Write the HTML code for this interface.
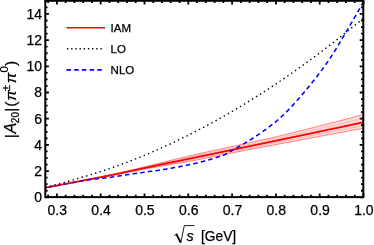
<!DOCTYPE html>
<html><head><meta charset="utf-8"><style>
html,body{margin:0;padding:0;background:#fff;}
svg{display:block;will-change:transform;opacity:0.999;}
text{font-family:"Liberation Sans",sans-serif;fill:#000;stroke:#000;stroke-width:0.25px;}
.tk{font-size:14px;}
.lg{font-size:11.5px;}
.ax{font-size:14.5px;}
</style></head><body>
<svg width="374" height="245" viewBox="0 0 374 245">
<defs><linearGradient id="bg" gradientUnits="userSpaceOnUse" x1="60" y1="0" x2="108" y2="0"><stop offset="0" stop-color="#0000ff" stop-opacity="0.5"/><stop offset="1" stop-color="#0000ff" stop-opacity="1"/></linearGradient></defs>
<rect width="374" height="245" fill="#fff"/>
<path d="M45.30,187.77 L46.90,187.46 L48.50,187.15 L50.10,186.83 L51.70,186.51 L53.29,186.20 L54.89,185.88 L56.49,185.57 L58.09,185.25 L59.69,184.94 L61.29,184.62 L62.89,184.31 L64.49,184.00 L66.09,183.68 L67.69,183.37 L69.28,183.05 L70.88,182.74 L72.48,182.43 L74.08,182.12 L75.68,181.81 L77.28,181.49 L78.88,181.18 L80.48,180.87 L82.08,180.56 L83.68,180.25 L85.27,179.94 L86.87,179.62 L88.47,179.31 L90.07,179.00 L91.67,178.68 L93.27,178.36 L94.87,178.05 L96.47,177.73 L98.07,177.40 L99.67,177.08 L101.26,176.76 L102.86,176.43 L104.46,176.10 L106.06,175.77 L107.66,175.43 L109.26,175.10 L110.86,174.76 L112.46,174.41 L114.06,174.06 L115.66,173.71 L117.25,173.35 L118.85,172.98 L120.45,172.62 L122.05,172.25 L123.65,171.87 L125.25,171.50 L126.85,171.12 L128.45,170.74 L130.05,170.35 L131.65,169.97 L133.24,169.58 L134.84,169.19 L136.44,168.80 L138.04,168.42 L139.64,168.03 L141.24,167.64 L142.84,167.25 L144.44,166.86 L146.04,166.47 L147.64,166.08 L149.23,165.69 L150.83,165.30 L152.43,164.90 L154.03,164.50 L155.63,164.10 L157.23,163.71 L158.83,163.31 L160.43,162.91 L162.03,162.52 L163.63,162.12 L165.22,161.73 L166.82,161.34 L168.42,160.95 L170.02,160.56 L171.62,160.18 L173.22,159.79 L174.82,159.40 L176.42,159.02 L178.02,158.63 L179.62,158.24 L181.21,157.85 L182.81,157.47 L184.41,157.08 L186.01,156.69 L187.61,156.31 L189.21,155.93 L190.81,155.55 L192.41,155.18 L194.01,154.80 L195.61,154.43 L197.20,154.07 L198.80,153.71 L200.40,153.35 L202.00,152.99 L203.60,152.64 L205.20,152.29 L206.80,151.95 L208.40,151.60 L210.00,151.25 L211.60,150.91 L213.19,150.56 L214.79,150.22 L216.39,149.88 L217.99,149.54 L219.59,149.19 L221.19,148.85 L222.79,148.51 L224.39,148.17 L225.99,147.82 L227.59,147.48 L229.18,147.14 L230.78,146.79 L232.38,146.45 L233.98,146.10 L235.58,145.75 L237.18,145.40 L238.78,145.05 L240.38,144.70 L241.98,144.35 L243.58,144.00 L245.17,143.65 L246.77,143.30 L248.37,142.95 L249.97,142.60 L251.57,142.24 L253.17,141.89 L254.77,141.54 L256.37,141.18 L257.97,140.83 L259.57,140.47 L261.16,140.12 L262.76,139.76 L264.36,139.40 L265.96,139.04 L267.56,138.68 L269.16,138.32 L270.76,137.96 L272.36,137.59 L273.96,137.23 L275.56,136.86 L277.15,136.50 L278.75,136.13 L280.35,135.76 L281.95,135.38 L283.55,135.00 L285.15,134.61 L286.75,134.21 L288.35,133.82 L289.95,133.42 L291.55,133.02 L293.14,132.63 L294.74,132.23 L296.34,131.83 L297.94,131.43 L299.54,131.03 L301.14,130.63 L302.74,130.23 L304.34,129.83 L305.94,129.43 L307.54,129.02 L309.13,128.62 L310.73,128.21 L312.33,127.81 L313.93,127.40 L315.53,126.99 L317.13,126.58 L318.73,126.17 L320.33,125.76 L321.93,125.36 L323.53,124.94 L325.12,124.53 L326.72,124.12 L328.32,123.71 L329.92,123.30 L331.52,122.89 L333.12,122.47 L334.72,122.06 L336.32,121.65 L337.92,121.24 L339.52,120.82 L341.11,120.41 L342.71,119.99 L344.31,119.58 L345.91,119.16 L347.51,118.74 L349.11,118.32 L350.71,117.90 L352.31,117.48 L353.91,117.06 L355.51,116.64 L357.10,116.22 L358.70,115.80 L360.30,115.38 L361.90,114.95 L363.50,114.53 L363.50,128.28 L361.90,128.57 L360.30,128.87 L358.70,129.16 L357.10,129.46 L355.51,129.75 L353.91,130.05 L352.31,130.34 L350.71,130.64 L349.11,130.93 L347.51,131.23 L345.91,131.53 L344.31,131.82 L342.71,132.12 L341.11,132.42 L339.52,132.71 L337.92,133.01 L336.32,133.31 L334.72,133.61 L333.12,133.91 L331.52,134.21 L329.92,134.51 L328.32,134.81 L326.72,135.11 L325.12,135.41 L323.53,135.71 L321.93,136.01 L320.33,136.32 L318.73,136.62 L317.13,136.92 L315.53,137.22 L313.93,137.52 L312.33,137.82 L310.73,138.12 L309.13,138.42 L307.54,138.72 L305.94,139.02 L304.34,139.32 L302.74,139.62 L301.14,139.92 L299.54,140.22 L297.94,140.52 L296.34,140.82 L294.74,141.11 L293.14,141.41 L291.55,141.70 L289.95,142.00 L288.35,142.29 L286.75,142.58 L285.15,142.87 L283.55,143.16 L281.95,143.45 L280.35,143.75 L278.75,144.05 L277.15,144.35 L275.56,144.64 L273.96,144.94 L272.36,145.24 L270.76,145.54 L269.16,145.84 L267.56,146.14 L265.96,146.44 L264.36,146.74 L262.76,147.05 L261.16,147.35 L259.57,147.65 L257.97,147.95 L256.37,148.26 L254.77,148.56 L253.17,148.87 L251.57,149.17 L249.97,149.48 L248.37,149.79 L246.77,150.10 L245.17,150.40 L243.58,150.71 L241.98,151.02 L240.38,151.34 L238.78,151.65 L237.18,151.96 L235.58,152.28 L233.98,152.59 L232.38,152.91 L230.78,153.23 L229.18,153.55 L227.59,153.87 L225.99,154.19 L224.39,154.51 L222.79,154.83 L221.19,155.15 L219.59,155.48 L217.99,155.80 L216.39,156.12 L214.79,156.44 L213.19,156.76 L211.60,157.08 L210.00,157.40 L208.40,157.71 L206.80,158.03 L205.20,158.34 L203.60,158.66 L202.00,158.97 L200.40,159.28 L198.80,159.58 L197.20,159.88 L195.61,160.18 L194.01,160.47 L192.41,160.76 L190.81,161.04 L189.21,161.32 L187.61,161.60 L186.01,161.88 L184.41,162.16 L182.81,162.43 L181.21,162.71 L179.62,162.98 L178.02,163.25 L176.42,163.53 L174.82,163.80 L173.22,164.08 L171.62,164.35 L170.02,164.63 L168.42,164.91 L166.82,165.18 L165.22,165.46 L163.63,165.73 L162.03,166.00 L160.43,166.27 L158.83,166.54 L157.23,166.81 L155.63,167.08 L154.03,167.36 L152.43,167.64 L150.83,167.92 L149.23,168.20 L147.64,168.49 L146.04,168.79 L144.44,169.09 L142.84,169.39 L141.24,169.69 L139.64,170.00 L138.04,170.30 L136.44,170.61 L134.84,170.92 L133.24,171.23 L131.65,171.54 L130.05,171.85 L128.45,172.16 L126.85,172.47 L125.25,172.78 L123.65,173.09 L122.05,173.41 L120.45,173.72 L118.85,174.03 L117.25,174.34 L115.66,174.65 L114.06,174.95 L112.46,175.26 L110.86,175.57 L109.26,175.88 L107.66,176.18 L106.06,176.49 L104.46,176.79 L102.86,177.09 L101.26,177.38 L99.67,177.68 L98.07,177.97 L96.47,178.26 L94.87,178.55 L93.27,178.84 L91.67,179.13 L90.07,179.42 L88.47,179.71 L86.87,180.00 L85.27,180.28 L83.68,180.57 L82.08,180.86 L80.48,181.15 L78.88,181.44 L77.28,181.73 L75.68,182.02 L74.08,182.31 L72.48,182.60 L70.88,182.90 L69.28,183.19 L67.69,183.49 L66.09,183.78 L64.49,184.08 L62.89,184.38 L61.29,184.69 L59.69,184.99 L58.09,185.29 L56.49,185.60 L54.89,185.91 L53.29,186.22 L51.70,186.53 L50.10,186.84 L48.50,187.15 L46.90,187.46 L45.30,187.77Z" fill="#ff0000" fill-opacity="0.13" stroke="none"/>
<path d="M45.30,187.77 L46.90,187.46 L48.50,187.15 L50.10,186.83 L51.70,186.51 L53.29,186.20 L54.89,185.88 L56.49,185.57 L58.09,185.25 L59.69,184.94 L61.29,184.62 L62.89,184.31 L64.49,184.00 L66.09,183.68 L67.69,183.37 L69.28,183.05 L70.88,182.74 L72.48,182.43 L74.08,182.12 L75.68,181.81 L77.28,181.49 L78.88,181.18 L80.48,180.87 L82.08,180.56 L83.68,180.25 L85.27,179.94 L86.87,179.62 L88.47,179.31 L90.07,179.00 L91.67,178.68 L93.27,178.36 L94.87,178.05 L96.47,177.73 L98.07,177.40 L99.67,177.08 L101.26,176.76 L102.86,176.43 L104.46,176.10 L106.06,175.77 L107.66,175.43 L109.26,175.10 L110.86,174.76 L112.46,174.41 L114.06,174.06 L115.66,173.71 L117.25,173.35 L118.85,172.98 L120.45,172.62 L122.05,172.25 L123.65,171.87 L125.25,171.50 L126.85,171.12 L128.45,170.74 L130.05,170.35 L131.65,169.97 L133.24,169.58 L134.84,169.19 L136.44,168.80 L138.04,168.42 L139.64,168.03 L141.24,167.64 L142.84,167.25 L144.44,166.86 L146.04,166.47 L147.64,166.08 L149.23,165.69 L150.83,165.30 L152.43,164.90 L154.03,164.50 L155.63,164.10 L157.23,163.71 L158.83,163.31 L160.43,162.91 L162.03,162.52 L163.63,162.12 L165.22,161.73 L166.82,161.34 L168.42,160.95 L170.02,160.56 L171.62,160.18 L173.22,159.79 L174.82,159.40 L176.42,159.02 L178.02,158.63 L179.62,158.24 L181.21,157.85 L182.81,157.47 L184.41,157.08 L186.01,156.69 L187.61,156.31 L189.21,155.93 L190.81,155.55 L192.41,155.18 L194.01,154.80 L195.61,154.43 L197.20,154.07 L198.80,153.71 L200.40,153.35 L202.00,152.99 L203.60,152.64 L205.20,152.29 L206.80,151.95 L208.40,151.60 L210.00,151.25 L211.60,150.91 L213.19,150.56 L214.79,150.22 L216.39,149.88 L217.99,149.54 L219.59,149.19 L221.19,148.85 L222.79,148.51 L224.39,148.17 L225.99,147.82 L227.59,147.48 L229.18,147.14 L230.78,146.79 L232.38,146.45 L233.98,146.10 L235.58,145.75 L237.18,145.40 L238.78,145.05 L240.38,144.70 L241.98,144.35 L243.58,144.00 L245.17,143.65 L246.77,143.30 L248.37,142.95 L249.97,142.60 L251.57,142.24 L253.17,141.89 L254.77,141.54 L256.37,141.18 L257.97,140.83 L259.57,140.47 L261.16,140.12 L262.76,139.76 L264.36,139.40 L265.96,139.04 L267.56,138.68 L269.16,138.32 L270.76,137.96 L272.36,137.59 L273.96,137.23 L275.56,136.86 L277.15,136.50 L278.75,136.13 L280.35,135.76 L281.95,135.38 L283.55,135.00 L285.15,134.61 L286.75,134.21 L288.35,133.82 L289.95,133.42 L291.55,133.02 L293.14,132.63 L294.74,132.23 L296.34,131.83 L297.94,131.43 L299.54,131.03 L301.14,130.63 L302.74,130.23 L304.34,129.83 L305.94,129.43 L307.54,129.02 L309.13,128.62 L310.73,128.21 L312.33,127.81 L313.93,127.40 L315.53,126.99 L317.13,126.58 L318.73,126.17 L320.33,125.76 L321.93,125.36 L323.53,124.94 L325.12,124.53 L326.72,124.12 L328.32,123.71 L329.92,123.30 L331.52,122.89 L333.12,122.47 L334.72,122.06 L336.32,121.65 L337.92,121.24 L339.52,120.82 L341.11,120.41 L342.71,119.99 L344.31,119.58 L345.91,119.16 L347.51,118.74 L349.11,118.32 L350.71,117.90 L352.31,117.48 L353.91,117.06 L355.51,116.64 L357.10,116.22 L358.70,115.80 L360.30,115.38 L361.90,114.95 L363.50,114.53" fill="none" stroke="#ff2020" stroke-opacity="0.9" stroke-width="0.6"/>
<path d="M45.30,187.77 L46.90,187.46 L48.50,187.15 L50.10,186.84 L51.70,186.53 L53.29,186.22 L54.89,185.91 L56.49,185.60 L58.09,185.29 L59.69,184.99 L61.29,184.69 L62.89,184.38 L64.49,184.08 L66.09,183.78 L67.69,183.49 L69.28,183.19 L70.88,182.90 L72.48,182.60 L74.08,182.31 L75.68,182.02 L77.28,181.73 L78.88,181.44 L80.48,181.15 L82.08,180.86 L83.68,180.57 L85.27,180.28 L86.87,180.00 L88.47,179.71 L90.07,179.42 L91.67,179.13 L93.27,178.84 L94.87,178.55 L96.47,178.26 L98.07,177.97 L99.67,177.68 L101.26,177.38 L102.86,177.09 L104.46,176.79 L106.06,176.49 L107.66,176.18 L109.26,175.88 L110.86,175.57 L112.46,175.26 L114.06,174.95 L115.66,174.65 L117.25,174.34 L118.85,174.03 L120.45,173.72 L122.05,173.41 L123.65,173.09 L125.25,172.78 L126.85,172.47 L128.45,172.16 L130.05,171.85 L131.65,171.54 L133.24,171.23 L134.84,170.92 L136.44,170.61 L138.04,170.30 L139.64,170.00 L141.24,169.69 L142.84,169.39 L144.44,169.09 L146.04,168.79 L147.64,168.49 L149.23,168.20 L150.83,167.92 L152.43,167.64 L154.03,167.36 L155.63,167.08 L157.23,166.81 L158.83,166.54 L160.43,166.27 L162.03,166.00 L163.63,165.73 L165.22,165.46 L166.82,165.18 L168.42,164.91 L170.02,164.63 L171.62,164.35 L173.22,164.08 L174.82,163.80 L176.42,163.53 L178.02,163.25 L179.62,162.98 L181.21,162.71 L182.81,162.43 L184.41,162.16 L186.01,161.88 L187.61,161.60 L189.21,161.32 L190.81,161.04 L192.41,160.76 L194.01,160.47 L195.61,160.18 L197.20,159.88 L198.80,159.58 L200.40,159.28 L202.00,158.97 L203.60,158.66 L205.20,158.34 L206.80,158.03 L208.40,157.71 L210.00,157.40 L211.60,157.08 L213.19,156.76 L214.79,156.44 L216.39,156.12 L217.99,155.80 L219.59,155.48 L221.19,155.15 L222.79,154.83 L224.39,154.51 L225.99,154.19 L227.59,153.87 L229.18,153.55 L230.78,153.23 L232.38,152.91 L233.98,152.59 L235.58,152.28 L237.18,151.96 L238.78,151.65 L240.38,151.34 L241.98,151.02 L243.58,150.71 L245.17,150.40 L246.77,150.10 L248.37,149.79 L249.97,149.48 L251.57,149.17 L253.17,148.87 L254.77,148.56 L256.37,148.26 L257.97,147.95 L259.57,147.65 L261.16,147.35 L262.76,147.05 L264.36,146.74 L265.96,146.44 L267.56,146.14 L269.16,145.84 L270.76,145.54 L272.36,145.24 L273.96,144.94 L275.56,144.64 L277.15,144.35 L278.75,144.05 L280.35,143.75 L281.95,143.45 L283.55,143.16 L285.15,142.87 L286.75,142.58 L288.35,142.29 L289.95,142.00 L291.55,141.70 L293.14,141.41 L294.74,141.11 L296.34,140.82 L297.94,140.52 L299.54,140.22 L301.14,139.92 L302.74,139.62 L304.34,139.32 L305.94,139.02 L307.54,138.72 L309.13,138.42 L310.73,138.12 L312.33,137.82 L313.93,137.52 L315.53,137.22 L317.13,136.92 L318.73,136.62 L320.33,136.32 L321.93,136.01 L323.53,135.71 L325.12,135.41 L326.72,135.11 L328.32,134.81 L329.92,134.51 L331.52,134.21 L333.12,133.91 L334.72,133.61 L336.32,133.31 L337.92,133.01 L339.52,132.71 L341.11,132.42 L342.71,132.12 L344.31,131.82 L345.91,131.53 L347.51,131.23 L349.11,130.93 L350.71,130.64 L352.31,130.34 L353.91,130.05 L355.51,129.75 L357.10,129.46 L358.70,129.16 L360.30,128.87 L361.90,128.57 L363.50,128.28" fill="none" stroke="#ff2020" stroke-opacity="0.9" stroke-width="0.6"/>
<path d="M45.30,187.77 L46.90,187.46 L48.50,187.15 L50.10,186.83 L51.70,186.52 L53.29,186.20 L54.89,185.89 L56.49,185.58 L58.09,185.26 L59.69,184.95 L61.29,184.64 L62.89,184.33 L64.49,184.01 L66.09,183.70 L67.69,183.39 L69.28,183.08 L70.88,182.78 L72.48,182.47 L74.08,182.16 L75.68,181.85 L77.28,181.55 L78.88,181.24 L80.48,180.93 L82.08,180.63 L83.68,180.32 L85.27,180.01 L86.87,179.71 L88.47,179.40 L90.07,179.09 L91.67,178.78 L93.27,178.47 L94.87,178.16 L96.47,177.85 L98.07,177.53 L99.67,177.22 L101.26,176.90 L102.86,176.58 L104.46,176.25 L106.06,175.93 L107.66,175.60 L109.26,175.27 L110.86,174.94 L112.46,174.60 L114.06,174.26 L115.66,173.92 L117.25,173.57 L118.85,173.22 L120.45,172.87 L122.05,172.51 L123.65,172.16 L125.25,171.80 L126.85,171.43 L128.45,171.07 L130.05,170.70 L131.65,170.34 L133.24,169.97 L134.84,169.60 L136.44,169.23 L138.04,168.86 L139.64,168.50 L141.24,168.13 L142.84,167.76 L144.44,167.39 L146.04,167.02 L147.64,166.66 L149.23,166.29 L150.83,165.92 L152.43,165.55 L154.03,165.18 L155.63,164.81 L157.23,164.44 L158.83,164.07 L160.43,163.70 L162.03,163.33 L163.63,162.96 L165.22,162.60 L166.82,162.23 L168.42,161.87 L170.02,161.51 L171.62,161.15 L173.22,160.79 L174.82,160.42 L176.42,160.06 L178.02,159.70 L179.62,159.34 L181.21,158.98 L182.81,158.62 L184.41,158.26 L186.01,157.90 L187.61,157.54 L189.21,157.18 L190.81,156.83 L192.41,156.47 L194.01,156.12 L195.61,155.77 L197.20,155.42 L198.80,155.07 L200.40,154.72 L202.00,154.38 L203.60,154.04 L205.20,153.70 L206.80,153.36 L208.40,153.02 L210.00,152.68 L211.60,152.35 L213.19,152.01 L214.79,151.67 L216.39,151.33 L217.99,151.00 L219.59,150.66 L221.19,150.32 L222.79,149.99 L224.39,149.65 L225.99,149.31 L227.59,148.97 L229.18,148.64 L230.78,148.30 L232.38,147.96 L233.98,147.62 L235.58,147.28 L237.18,146.94 L238.78,146.59 L240.38,146.25 L241.98,145.91 L243.58,145.57 L245.17,145.23 L246.77,144.88 L248.37,144.54 L249.97,144.20 L251.57,143.85 L253.17,143.51 L254.77,143.17 L256.37,142.82 L257.97,142.48 L259.57,142.13 L261.16,141.79 L262.76,141.44 L264.36,141.09 L265.96,140.74 L267.56,140.40 L269.16,140.05 L270.76,139.70 L272.36,139.35 L273.96,139.00 L275.56,138.65 L277.15,138.29 L278.75,137.94 L280.35,137.58 L281.95,137.23 L283.55,136.87 L285.15,136.50 L286.75,136.13 L288.35,135.76 L289.95,135.39 L291.55,135.03 L293.14,134.66 L294.74,134.29 L296.34,133.92 L297.94,133.55 L299.54,133.18 L301.14,132.80 L302.74,132.43 L304.34,132.06 L305.94,131.69 L307.54,131.31 L309.13,130.94 L310.73,130.56 L312.33,130.19 L313.93,129.81 L315.53,129.44 L317.13,129.06 L318.73,128.68 L320.33,128.31 L321.93,127.93 L323.53,127.55 L325.12,127.17 L326.72,126.80 L328.32,126.42 L329.92,126.04 L331.52,125.66 L333.12,125.28 L334.72,124.90 L336.32,124.52 L337.92,124.14 L339.52,123.76 L341.11,123.38 L342.71,123.00 L344.31,122.62 L345.91,122.24 L347.51,121.85 L349.11,121.47 L350.71,121.09 L352.31,120.70 L353.91,120.32 L355.51,119.93 L357.10,119.55 L358.70,119.16 L360.30,118.78 L361.90,118.39 L363.50,118.01 L363.50,125.57 L361.90,125.88 L360.30,126.20 L358.70,126.51 L357.10,126.83 L355.51,127.14 L353.91,127.46 L352.31,127.77 L350.71,128.09 L349.11,128.41 L347.51,128.72 L345.91,129.04 L344.31,129.35 L342.71,129.67 L341.11,129.99 L339.52,130.30 L337.92,130.62 L336.32,130.94 L334.72,131.25 L333.12,131.57 L331.52,131.89 L329.92,132.20 L328.32,132.52 L326.72,132.84 L325.12,133.16 L323.53,133.47 L321.93,133.79 L320.33,134.11 L318.73,134.43 L317.13,134.75 L315.53,135.06 L313.93,135.38 L312.33,135.70 L310.73,136.01 L309.13,136.33 L307.54,136.65 L305.94,136.96 L304.34,137.28 L302.74,137.60 L301.14,137.91 L299.54,138.23 L297.94,138.54 L296.34,138.86 L294.74,139.17 L293.14,139.49 L291.55,139.80 L289.95,140.11 L288.35,140.43 L286.75,140.74 L285.15,141.05 L283.55,141.36 L281.95,141.67 L280.35,141.98 L278.75,142.29 L277.15,142.61 L275.56,142.92 L273.96,143.24 L272.36,143.55 L270.76,143.87 L269.16,144.19 L267.56,144.50 L265.96,144.82 L264.36,145.13 L262.76,145.45 L261.16,145.76 L259.57,146.08 L257.97,146.40 L256.37,146.71 L254.77,147.03 L253.17,147.35 L251.57,147.67 L249.97,147.98 L248.37,148.30 L246.77,148.62 L245.17,148.94 L243.58,149.26 L241.98,149.58 L240.38,149.90 L238.78,150.22 L237.18,150.55 L235.58,150.87 L233.98,151.19 L232.38,151.52 L230.78,151.84 L229.18,152.16 L227.59,152.49 L225.99,152.81 L224.39,153.14 L222.79,153.46 L221.19,153.79 L219.59,154.12 L217.99,154.44 L216.39,154.77 L214.79,155.09 L213.19,155.42 L211.60,155.74 L210.00,156.06 L208.40,156.38 L206.80,156.71 L205.20,157.03 L203.60,157.35 L202.00,157.67 L200.40,157.99 L198.80,158.30 L197.20,158.61 L195.61,158.92 L194.01,159.23 L192.41,159.54 L190.81,159.84 L189.21,160.15 L187.61,160.45 L186.01,160.75 L184.41,161.05 L182.81,161.35 L181.21,161.65 L179.62,161.95 L178.02,162.24 L176.42,162.54 L174.82,162.84 L173.22,163.14 L171.62,163.44 L170.02,163.74 L168.42,164.05 L166.82,164.35 L165.22,164.65 L163.63,164.94 L162.03,165.24 L160.43,165.54 L158.83,165.84 L157.23,166.14 L155.63,166.44 L154.03,166.75 L152.43,167.05 L150.83,167.36 L149.23,167.67 L147.64,167.98 L146.04,168.30 L144.44,168.62 L142.84,168.94 L141.24,169.26 L139.64,169.58 L138.04,169.90 L136.44,170.23 L134.84,170.55 L133.24,170.88 L131.65,171.20 L130.05,171.53 L128.45,171.85 L126.85,172.18 L125.25,172.50 L123.65,172.83 L122.05,173.15 L120.45,173.47 L118.85,173.80 L117.25,174.12 L115.66,174.44 L114.06,174.75 L112.46,175.07 L110.86,175.39 L109.26,175.70 L107.66,176.01 L106.06,176.32 L104.46,176.63 L102.86,176.94 L101.26,177.24 L99.67,177.54 L98.07,177.84 L96.47,178.14 L94.87,178.44 L93.27,178.74 L91.67,179.03 L90.07,179.32 L88.47,179.62 L86.87,179.91 L85.27,180.20 L83.68,180.50 L82.08,180.79 L80.48,181.08 L78.88,181.38 L77.28,181.67 L75.68,181.97 L74.08,182.26 L72.48,182.56 L70.88,182.86 L69.28,183.16 L67.69,183.46 L66.09,183.76 L64.49,184.06 L62.89,184.37 L61.29,184.67 L59.69,184.98 L58.09,185.29 L56.49,185.59 L54.89,185.90 L53.29,186.21 L51.70,186.52 L50.10,186.83 L48.50,187.15 L46.90,187.46 L45.30,187.77Z" fill="#ff0000" fill-opacity="0.04" stroke="none"/>
<path d="M45.30,187.77 L46.90,187.46 L48.50,187.15 L50.10,186.83 L51.70,186.52 L53.29,186.20 L54.89,185.89 L56.49,185.58 L58.09,185.26 L59.69,184.95 L61.29,184.64 L62.89,184.33 L64.49,184.01 L66.09,183.70 L67.69,183.39 L69.28,183.08 L70.88,182.78 L72.48,182.47 L74.08,182.16 L75.68,181.85 L77.28,181.55 L78.88,181.24 L80.48,180.93 L82.08,180.63 L83.68,180.32 L85.27,180.01 L86.87,179.71 L88.47,179.40 L90.07,179.09 L91.67,178.78 L93.27,178.47 L94.87,178.16 L96.47,177.85 L98.07,177.53 L99.67,177.22 L101.26,176.90 L102.86,176.58 L104.46,176.25 L106.06,175.93 L107.66,175.60 L109.26,175.27 L110.86,174.94 L112.46,174.60 L114.06,174.26 L115.66,173.92 L117.25,173.57 L118.85,173.22 L120.45,172.87 L122.05,172.51 L123.65,172.16 L125.25,171.80 L126.85,171.43 L128.45,171.07 L130.05,170.70 L131.65,170.34 L133.24,169.97 L134.84,169.60 L136.44,169.23 L138.04,168.86 L139.64,168.50 L141.24,168.13 L142.84,167.76 L144.44,167.39 L146.04,167.02 L147.64,166.66 L149.23,166.29 L150.83,165.92 L152.43,165.55 L154.03,165.18 L155.63,164.81 L157.23,164.44 L158.83,164.07 L160.43,163.70 L162.03,163.33 L163.63,162.96 L165.22,162.60 L166.82,162.23 L168.42,161.87 L170.02,161.51 L171.62,161.15 L173.22,160.79 L174.82,160.42 L176.42,160.06 L178.02,159.70 L179.62,159.34 L181.21,158.98 L182.81,158.62 L184.41,158.26 L186.01,157.90 L187.61,157.54 L189.21,157.18 L190.81,156.83 L192.41,156.47 L194.01,156.12 L195.61,155.77 L197.20,155.42 L198.80,155.07 L200.40,154.72 L202.00,154.38 L203.60,154.04 L205.20,153.70 L206.80,153.36 L208.40,153.02 L210.00,152.68 L211.60,152.35 L213.19,152.01 L214.79,151.67 L216.39,151.33 L217.99,151.00 L219.59,150.66 L221.19,150.32 L222.79,149.99 L224.39,149.65 L225.99,149.31 L227.59,148.97 L229.18,148.64 L230.78,148.30 L232.38,147.96 L233.98,147.62 L235.58,147.28 L237.18,146.94 L238.78,146.59 L240.38,146.25 L241.98,145.91 L243.58,145.57 L245.17,145.23 L246.77,144.88 L248.37,144.54 L249.97,144.20 L251.57,143.85 L253.17,143.51 L254.77,143.17 L256.37,142.82 L257.97,142.48 L259.57,142.13 L261.16,141.79 L262.76,141.44 L264.36,141.09 L265.96,140.74 L267.56,140.40 L269.16,140.05 L270.76,139.70 L272.36,139.35 L273.96,139.00 L275.56,138.65 L277.15,138.29 L278.75,137.94 L280.35,137.58 L281.95,137.23 L283.55,136.87 L285.15,136.50 L286.75,136.13 L288.35,135.76 L289.95,135.39 L291.55,135.03 L293.14,134.66 L294.74,134.29 L296.34,133.92 L297.94,133.55 L299.54,133.18 L301.14,132.80 L302.74,132.43 L304.34,132.06 L305.94,131.69 L307.54,131.31 L309.13,130.94 L310.73,130.56 L312.33,130.19 L313.93,129.81 L315.53,129.44 L317.13,129.06 L318.73,128.68 L320.33,128.31 L321.93,127.93 L323.53,127.55 L325.12,127.17 L326.72,126.80 L328.32,126.42 L329.92,126.04 L331.52,125.66 L333.12,125.28 L334.72,124.90 L336.32,124.52 L337.92,124.14 L339.52,123.76 L341.11,123.38 L342.71,123.00 L344.31,122.62 L345.91,122.24 L347.51,121.85 L349.11,121.47 L350.71,121.09 L352.31,120.70 L353.91,120.32 L355.51,119.93 L357.10,119.55 L358.70,119.16 L360.30,118.78 L361.90,118.39 L363.50,118.01" fill="none" stroke="#ff2020" stroke-opacity="0.3" stroke-width="0.6"/>
<path d="M45.30,187.77 L46.90,187.46 L48.50,187.15 L50.10,186.83 L51.70,186.52 L53.29,186.21 L54.89,185.90 L56.49,185.59 L58.09,185.29 L59.69,184.98 L61.29,184.67 L62.89,184.37 L64.49,184.06 L66.09,183.76 L67.69,183.46 L69.28,183.16 L70.88,182.86 L72.48,182.56 L74.08,182.26 L75.68,181.97 L77.28,181.67 L78.88,181.38 L80.48,181.08 L82.08,180.79 L83.68,180.50 L85.27,180.20 L86.87,179.91 L88.47,179.62 L90.07,179.32 L91.67,179.03 L93.27,178.74 L94.87,178.44 L96.47,178.14 L98.07,177.84 L99.67,177.54 L101.26,177.24 L102.86,176.94 L104.46,176.63 L106.06,176.32 L107.66,176.01 L109.26,175.70 L110.86,175.39 L112.46,175.07 L114.06,174.75 L115.66,174.44 L117.25,174.12 L118.85,173.80 L120.45,173.47 L122.05,173.15 L123.65,172.83 L125.25,172.50 L126.85,172.18 L128.45,171.85 L130.05,171.53 L131.65,171.20 L133.24,170.88 L134.84,170.55 L136.44,170.23 L138.04,169.90 L139.64,169.58 L141.24,169.26 L142.84,168.94 L144.44,168.62 L146.04,168.30 L147.64,167.98 L149.23,167.67 L150.83,167.36 L152.43,167.05 L154.03,166.75 L155.63,166.44 L157.23,166.14 L158.83,165.84 L160.43,165.54 L162.03,165.24 L163.63,164.94 L165.22,164.65 L166.82,164.35 L168.42,164.05 L170.02,163.74 L171.62,163.44 L173.22,163.14 L174.82,162.84 L176.42,162.54 L178.02,162.24 L179.62,161.95 L181.21,161.65 L182.81,161.35 L184.41,161.05 L186.01,160.75 L187.61,160.45 L189.21,160.15 L190.81,159.84 L192.41,159.54 L194.01,159.23 L195.61,158.92 L197.20,158.61 L198.80,158.30 L200.40,157.99 L202.00,157.67 L203.60,157.35 L205.20,157.03 L206.80,156.71 L208.40,156.38 L210.00,156.06 L211.60,155.74 L213.19,155.42 L214.79,155.09 L216.39,154.77 L217.99,154.44 L219.59,154.12 L221.19,153.79 L222.79,153.46 L224.39,153.14 L225.99,152.81 L227.59,152.49 L229.18,152.16 L230.78,151.84 L232.38,151.52 L233.98,151.19 L235.58,150.87 L237.18,150.55 L238.78,150.22 L240.38,149.90 L241.98,149.58 L243.58,149.26 L245.17,148.94 L246.77,148.62 L248.37,148.30 L249.97,147.98 L251.57,147.67 L253.17,147.35 L254.77,147.03 L256.37,146.71 L257.97,146.40 L259.57,146.08 L261.16,145.76 L262.76,145.45 L264.36,145.13 L265.96,144.82 L267.56,144.50 L269.16,144.19 L270.76,143.87 L272.36,143.55 L273.96,143.24 L275.56,142.92 L277.15,142.61 L278.75,142.29 L280.35,141.98 L281.95,141.67 L283.55,141.36 L285.15,141.05 L286.75,140.74 L288.35,140.43 L289.95,140.11 L291.55,139.80 L293.14,139.49 L294.74,139.17 L296.34,138.86 L297.94,138.54 L299.54,138.23 L301.14,137.91 L302.74,137.60 L304.34,137.28 L305.94,136.96 L307.54,136.65 L309.13,136.33 L310.73,136.01 L312.33,135.70 L313.93,135.38 L315.53,135.06 L317.13,134.75 L318.73,134.43 L320.33,134.11 L321.93,133.79 L323.53,133.47 L325.12,133.16 L326.72,132.84 L328.32,132.52 L329.92,132.20 L331.52,131.89 L333.12,131.57 L334.72,131.25 L336.32,130.94 L337.92,130.62 L339.52,130.30 L341.11,129.99 L342.71,129.67 L344.31,129.35 L345.91,129.04 L347.51,128.72 L349.11,128.41 L350.71,128.09 L352.31,127.77 L353.91,127.46 L355.51,127.14 L357.10,126.83 L358.70,126.51 L360.30,126.20 L361.90,125.88 L363.50,125.57" fill="none" stroke="#ff2020" stroke-opacity="0.3" stroke-width="0.6"/>
<path d="M45.30,187.77 L46.90,187.46 L48.50,187.15 L50.10,186.83 L51.70,186.52 L53.29,186.21 L54.89,185.90 L56.49,185.58 L58.09,185.27 L59.69,184.96 L61.29,184.65 L62.89,184.35 L64.49,184.04 L66.09,183.73 L67.69,183.43 L69.28,183.12 L70.88,182.82 L72.48,182.51 L74.08,182.21 L75.68,181.91 L77.28,181.61 L78.88,181.31 L80.48,181.01 L82.08,180.71 L83.68,180.41 L85.27,180.11 L86.87,179.81 L88.47,179.51 L90.07,179.21 L91.67,178.90 L93.27,178.60 L94.87,178.30 L96.47,177.99 L98.07,177.69 L99.67,177.38 L101.26,177.07 L102.86,176.76 L104.46,176.44 L106.06,176.13 L107.66,175.81 L109.26,175.49 L110.86,175.16 L112.46,174.84 L114.06,174.51 L115.66,174.18 L117.25,173.85 L118.85,173.52 L120.45,173.18 L122.05,172.84 L123.65,172.50 L125.25,172.16 L126.85,171.82 L128.45,171.48 L130.05,171.14 L131.65,170.79 L133.24,170.45 L134.84,170.10 L136.44,169.76 L138.04,169.41 L139.64,169.07 L141.24,168.73 L142.84,168.38 L144.44,168.04 L146.04,167.70 L147.64,167.36 L149.23,167.02 L150.83,166.68 L152.43,166.34 L154.03,166.00 L155.63,165.66 L157.23,165.33 L158.83,164.99 L160.43,164.66 L162.03,164.32 L163.63,163.99 L165.22,163.66 L166.82,163.32 L168.42,162.99 L170.02,162.66 L171.62,162.33 L173.22,162.00 L174.82,161.67 L176.42,161.34 L178.02,161.01 L179.62,160.68 L181.21,160.35 L182.81,160.02 L184.41,159.70 L186.01,159.37 L187.61,159.04 L189.21,158.71 L190.81,158.38 L192.41,158.05 L194.01,157.72 L195.61,157.40 L197.20,157.07 L198.80,156.74 L200.40,156.41 L202.00,156.08 L203.60,155.75 L205.20,155.42 L206.80,155.09 L208.40,154.76 L210.00,154.43 L211.60,154.10 L213.19,153.77 L214.79,153.44 L216.39,153.11 L217.99,152.78 L219.59,152.45 L221.19,152.12 L222.79,151.79 L224.39,151.46 L225.99,151.13 L227.59,150.80 L229.18,150.47 L230.78,150.14 L232.38,149.81 L233.98,149.48 L235.58,149.14 L237.18,148.81 L238.78,148.48 L240.38,148.15 L241.98,147.82 L243.58,147.49 L245.17,147.15 L246.77,146.82 L248.37,146.49 L249.97,146.16 L251.57,145.82 L253.17,145.49 L254.77,145.16 L256.37,144.83 L257.97,144.49 L259.57,144.16 L261.16,143.83 L262.76,143.49 L264.36,143.16 L265.96,142.83 L267.56,142.49 L269.16,142.16 L270.76,141.82 L272.36,141.49 L273.96,141.16 L275.56,140.82 L277.15,140.49 L278.75,140.15 L280.35,139.82 L281.95,139.48 L283.55,139.15 L285.15,138.81 L286.75,138.48 L288.35,138.14 L289.95,137.81 L291.55,137.47 L293.14,137.14 L294.74,136.80 L296.34,136.47 L297.94,136.13 L299.54,135.79 L301.14,135.46 L302.74,135.12 L304.34,134.78 L305.94,134.45 L307.54,134.11 L309.13,133.77 L310.73,133.44 L312.33,133.10 L313.93,132.76 L315.53,132.43 L317.13,132.09 L318.73,131.75 L320.33,131.41 L321.93,131.08 L323.53,130.74 L325.12,130.40 L326.72,130.06 L328.32,129.72 L329.92,129.39 L331.52,129.05 L333.12,128.71 L334.72,128.37 L336.32,128.03 L337.92,127.69 L339.52,127.35 L341.11,127.01 L342.71,126.68 L344.31,126.34 L345.91,126.00 L347.51,125.66 L349.11,125.32 L350.71,124.98 L352.31,124.64 L353.91,124.30 L355.51,123.96 L357.10,123.62 L358.70,123.28 L360.30,122.94 L361.90,122.60 L363.50,122.25" fill="none" stroke="#ff0000" stroke-width="1.8"/>
<path d="M45.30,187.28 L46.90,186.91 L48.50,186.52 L50.10,186.13 L51.70,185.74 L53.29,185.34 L54.89,184.93 L56.49,184.52 L58.09,184.10 L59.69,183.67 L61.29,183.24 L62.89,182.80 L64.49,182.36 L66.09,181.91 L67.69,181.46 L69.28,181.01 L70.88,180.55 L72.48,180.09 L74.08,179.62 L75.68,179.15 L77.28,178.68 L78.88,178.20 L80.48,177.73 L82.08,177.25 L83.68,176.77 L85.27,176.29 L86.87,175.80 L88.47,175.32 L90.07,174.83 L91.67,174.34 L93.27,173.84 L94.87,173.35 L96.47,172.84 L98.07,172.34 L99.67,171.83 L101.26,171.32 L102.86,170.80 L104.46,170.28 L106.06,169.75 L107.66,169.22 L109.26,168.68 L110.86,168.13 L112.46,167.58 L114.06,167.02 L115.66,166.46 L117.25,165.89 L118.85,165.31 L120.45,164.73 L122.05,164.14 L123.65,163.55 L125.25,162.95 L126.85,162.34 L128.45,161.73 L130.05,161.11 L131.65,160.49 L133.24,159.86 L134.84,159.23 L136.44,158.59 L138.04,157.95 L139.64,157.30 L141.24,156.64 L142.84,155.98 L144.44,155.32 L146.04,154.65 L147.64,153.97 L149.23,153.30 L150.83,152.61 L152.43,151.92 L154.03,151.23 L155.63,150.53 L157.23,149.82 L158.83,149.12 L160.43,148.40 L162.03,147.68 L163.63,146.96 L165.22,146.23 L166.82,145.50 L168.42,144.76 L170.02,144.02 L171.62,143.27 L173.22,142.52 L174.82,141.76 L176.42,141.00 L178.02,140.23 L179.62,139.46 L181.21,138.68 L182.81,137.90 L184.41,137.11 L186.01,136.32 L187.61,135.52 L189.21,134.72 L190.81,133.92 L192.41,133.10 L194.01,132.29 L195.61,131.47 L197.20,130.64 L198.80,129.81 L200.40,128.98 L202.00,128.13 L203.60,127.29 L205.20,126.44 L206.80,125.58 L208.40,124.72 L210.00,123.86 L211.60,122.99 L213.19,122.11 L214.79,121.24 L216.39,120.35 L217.99,119.46 L219.59,118.57 L221.19,117.67 L222.79,116.77 L224.39,115.86 L225.99,114.94 L227.59,114.02 L229.18,113.10 L230.78,112.17 L232.38,111.24 L233.98,110.30 L235.58,109.36 L237.18,108.41 L238.78,107.46 L240.38,106.50 L241.98,105.54 L243.58,104.57 L245.17,103.60 L246.77,102.62 L248.37,101.64 L249.97,100.65 L251.57,99.66 L253.17,98.67 L254.77,97.67 L256.37,96.66 L257.97,95.65 L259.57,94.63 L261.16,93.61 L262.76,92.59 L264.36,91.55 L265.96,90.52 L267.56,89.48 L269.16,88.43 L270.76,87.38 L272.36,86.33 L273.96,85.27 L275.56,84.20 L277.15,83.13 L278.75,82.06 L280.35,80.98 L281.95,79.90 L283.55,78.81 L285.15,77.71 L286.75,76.62 L288.35,75.51 L289.95,74.40 L291.55,73.29 L293.14,72.17 L294.74,71.05 L296.34,69.92 L297.94,68.79 L299.54,67.65 L301.14,66.51 L302.74,65.36 L304.34,64.21 L305.94,63.05 L307.54,61.89 L309.13,60.72 L310.73,59.55 L312.33,58.37 L313.93,57.19 L315.53,56.00 L317.13,54.81 L318.73,53.62 L320.33,52.41 L321.93,51.21 L323.53,50.00 L325.12,48.78 L326.72,47.56 L328.32,46.34 L329.92,45.10 L331.52,43.87 L333.12,42.63 L334.72,41.38 L336.32,40.13 L337.92,38.88 L339.52,37.62 L341.11,36.36 L342.71,35.09 L344.31,33.81 L345.91,32.53 L347.51,31.25 L349.11,29.96 L350.71,28.67 L352.31,27.37 L353.91,26.06 L355.51,24.76 L357.10,23.44 L358.70,22.12 L360.30,20.80 L361.90,19.47 L363.50,18.14" fill="none" stroke="#000" stroke-width="1.4" stroke-dasharray="1.4 3.3"/>
<path d="M363.50,1.51 L361.90,4.52 L360.30,7.42 L358.70,10.29 L357.10,13.12 L355.51,15.92 L353.91,18.70 L352.31,21.45 L350.71,24.18 L349.11,26.89 L347.51,29.59 L345.91,32.29 L344.31,34.97 L342.71,37.67 L341.11,40.38 L339.52,43.08 L337.92,45.77 L336.32,48.43 L334.72,51.04 L333.12,53.61 L331.52,56.10 L329.92,58.53 L328.32,60.87 L326.72,63.17 L325.12,65.43 L323.53,67.66 L321.93,69.85 L320.33,72.01 L318.73,74.14 L317.13,76.23 L315.53,78.30 L313.93,80.33 L312.33,82.34 L310.73,84.32 L309.13,86.28 L307.54,88.21 L305.94,90.12 L304.34,92.02 L302.74,93.91 L301.14,95.78 L299.54,97.64 L297.94,99.48 L296.34,101.30 L294.74,103.10 L293.14,104.87 L291.55,106.61 L289.95,108.32 L288.35,109.99 L286.75,111.63 L285.15,113.22 L283.55,114.77 L281.95,116.27 L280.35,117.73 L278.75,119.14 L277.15,120.52 L275.56,121.86 L273.96,123.17 L272.36,124.45 L270.76,125.70 L269.16,126.92 L267.56,128.12 L265.96,129.30 L264.36,130.45 L262.76,131.59 L261.16,132.70 L259.57,133.80 L257.97,134.89 L256.37,135.95 L254.77,136.99 L253.17,138.02 L251.57,139.04 L249.97,140.03 L248.37,141.02 L246.77,141.99 L245.17,142.95 L243.58,143.90 L241.98,144.84 L240.38,145.78 L238.78,146.70 L237.18,147.62 L235.58,148.53 L233.98,149.44 L232.38,150.35 L230.78,151.29 L229.18,152.23 L227.59,153.14 L225.99,153.98 L224.39,154.70 L222.79,155.31 L221.19,155.90 L219.59,156.47 L217.99,157.02 L216.39,157.56 L214.79,158.08 L213.19,158.58 L211.60,159.07 L210.00,159.55 L208.40,160.01 L206.80,160.46 L205.20,160.90 L203.60,161.32 L202.00,161.73 L200.40,162.14 L198.80,162.53 L197.20,162.91 L195.61,163.28 L194.01,163.65 L192.41,164.00 L190.81,164.35 L189.21,164.70 L187.61,165.03 L186.01,165.36 L184.41,165.69 L182.81,166.01 L181.21,166.32 L179.62,166.64 L178.02,166.95 L176.42,167.26 L174.82,167.56 L173.22,167.85 L171.62,168.14 L170.02,168.41 L168.42,168.69 L166.82,168.95 L165.22,169.21 L163.63,169.46 L162.03,169.71 L160.43,169.96 L158.83,170.20 L157.23,170.44 L155.63,170.67 L154.03,170.90 L152.43,171.13 L150.83,171.35 L149.23,171.58 L147.64,171.80 L146.04,172.02 L144.44,172.25 L142.84,172.47 L141.24,172.69 L139.64,172.91 L138.04,173.14 L136.44,173.37 L134.84,173.59 L133.24,173.83 L131.65,174.06 L130.05,174.30 L128.45,174.54 L126.85,174.79 L125.25,175.03 L123.65,175.28 L122.05,175.54 L120.45,175.79 L118.85,176.04 L117.25,176.29 L115.66,176.53 L114.06,176.77 L112.46,177.01 L110.86,177.24 L109.26,177.47 L107.66,177.69 L106.06,177.90 L104.46,178.10 L102.86,178.29 L101.26,178.47 L99.67,178.63 L98.07,178.78 L96.47,178.93 L94.87,179.09 L93.27,179.25 L91.67,179.43 L90.07,179.63 L88.47,179.85 L86.87,180.09 L85.27,180.36 L83.68,180.64 L82.08,180.94 L80.48,181.24 L78.88,181.56 L77.28,181.88 L75.68,182.20 L74.08,182.52 L72.48,182.83 L70.88,183.13 L69.28,183.43 L67.69,183.71 L66.09,184.00 L64.49,184.29 L62.89,184.58 L61.29,184.87 L59.69,185.16 L58.09,185.44 L56.49,185.73 L54.89,186.02 L53.29,186.30 L51.70,186.59 L50.10,186.87 L48.50,187.15 L46.90,187.44 L45.30,187.72" fill="none" stroke="url(#bg)" stroke-width="1.55" stroke-dasharray="4.5 3.2"/>
<path d="M48.14,197.1 v-2.3 M48.14,0.8 v2.3 M56.90,197.1 v-3.6 M56.90,0.8 v3.6 M65.66,197.1 v-2.3 M65.66,0.8 v2.3 M74.42,197.1 v-2.3 M74.42,0.8 v2.3 M83.18,197.1 v-2.3 M83.18,0.8 v2.3 M91.94,197.1 v-2.3 M91.94,0.8 v2.3 M100.70,197.1 v-3.6 M100.70,0.8 v3.6 M109.46,197.1 v-2.3 M109.46,0.8 v2.3 M118.22,197.1 v-2.3 M118.22,0.8 v2.3 M126.98,197.1 v-2.3 M126.98,0.8 v2.3 M135.74,197.1 v-2.3 M135.74,0.8 v2.3 M144.50,197.1 v-3.6 M144.50,0.8 v3.6 M153.26,197.1 v-2.3 M153.26,0.8 v2.3 M162.02,197.1 v-2.3 M162.02,0.8 v2.3 M170.78,197.1 v-2.3 M170.78,0.8 v2.3 M179.54,197.1 v-2.3 M179.54,0.8 v2.3 M188.30,197.1 v-3.6 M188.30,0.8 v3.6 M197.06,197.1 v-2.3 M197.06,0.8 v2.3 M205.82,197.1 v-2.3 M205.82,0.8 v2.3 M214.58,197.1 v-2.3 M214.58,0.8 v2.3 M223.34,197.1 v-2.3 M223.34,0.8 v2.3 M232.10,197.1 v-3.6 M232.10,0.8 v3.6 M240.86,197.1 v-2.3 M240.86,0.8 v2.3 M249.62,197.1 v-2.3 M249.62,0.8 v2.3 M258.38,197.1 v-2.3 M258.38,0.8 v2.3 M267.14,197.1 v-2.3 M267.14,0.8 v2.3 M275.90,197.1 v-3.6 M275.90,0.8 v3.6 M284.66,197.1 v-2.3 M284.66,0.8 v2.3 M293.42,197.1 v-2.3 M293.42,0.8 v2.3 M302.18,197.1 v-2.3 M302.18,0.8 v2.3 M310.94,197.1 v-2.3 M310.94,0.8 v2.3 M319.70,197.1 v-3.6 M319.70,0.8 v3.6 M328.46,197.1 v-2.3 M328.46,0.8 v2.3 M337.22,197.1 v-2.3 M337.22,0.8 v2.3 M345.98,197.1 v-2.3 M345.98,0.8 v2.3 M354.74,197.1 v-2.3 M354.74,0.8 v2.3 M363.50,197.1 v-3.6 M363.50,0.8 v3.6 M45.3,197.28 h3.6 M363.3,197.28 h-3.6 M45.3,190.73 h2.3 M363.3,190.73 h-2.3 M45.3,184.19 h2.3 M363.3,184.19 h-2.3 M45.3,177.64 h2.3 M363.3,177.64 h-2.3 M45.3,171.09 h3.6 M363.3,171.09 h-3.6 M45.3,164.54 h2.3 M363.3,164.54 h-2.3 M45.3,158.00 h2.3 M363.3,158.00 h-2.3 M45.3,151.45 h2.3 M363.3,151.45 h-2.3 M45.3,144.90 h3.6 M363.3,144.90 h-3.6 M45.3,138.35 h2.3 M363.3,138.35 h-2.3 M45.3,131.81 h2.3 M363.3,131.81 h-2.3 M45.3,125.26 h2.3 M363.3,125.26 h-2.3 M45.3,118.71 h3.6 M363.3,118.71 h-3.6 M45.3,112.16 h2.3 M363.3,112.16 h-2.3 M45.3,105.61 h2.3 M363.3,105.61 h-2.3 M45.3,99.07 h2.3 M363.3,99.07 h-2.3 M45.3,92.52 h3.6 M363.3,92.52 h-3.6 M45.3,85.97 h2.3 M363.3,85.97 h-2.3 M45.3,79.42 h2.3 M363.3,79.42 h-2.3 M45.3,72.88 h2.3 M363.3,72.88 h-2.3 M45.3,66.33 h3.6 M363.3,66.33 h-3.6 M45.3,59.78 h2.3 M363.3,59.78 h-2.3 M45.3,53.23 h2.3 M363.3,53.23 h-2.3 M45.3,46.69 h2.3 M363.3,46.69 h-2.3 M45.3,40.14 h3.6 M363.3,40.14 h-3.6 M45.3,33.59 h2.3 M363.3,33.59 h-2.3 M45.3,27.04 h2.3 M363.3,27.04 h-2.3 M45.3,20.50 h2.3 M363.3,20.50 h-2.3 M45.3,13.95 h3.6 M363.3,13.95 h-3.6 M45.3,7.40 h2.3 M363.3,7.40 h-2.3 M45.3,0.85 h2.3 M363.3,0.85 h-2.3" stroke="#000" stroke-width="1.8" fill="none"/>
<rect x="45.3" y="0.8" width="318.0" height="196.29999999999998" fill="none" stroke="#000" stroke-width="2"/>
<text x="57.30" y="214.6" text-anchor="middle" class="tk">0.3</text>
<text x="101.10" y="214.6" text-anchor="middle" class="tk">0.4</text>
<text x="144.90" y="214.6" text-anchor="middle" class="tk">0.5</text>
<text x="188.70" y="214.6" text-anchor="middle" class="tk">0.6</text>
<text x="232.50" y="214.6" text-anchor="middle" class="tk">0.7</text>
<text x="276.30" y="214.6" text-anchor="middle" class="tk">0.8</text>
<text x="320.10" y="214.6" text-anchor="middle" class="tk">0.9</text>
<text x="363.90" y="214.6" text-anchor="middle" class="tk">1.0</text>
<text x="42" y="202.28" text-anchor="end" class="tk">0</text>
<text x="42" y="176.05" text-anchor="end" class="tk">2</text>
<text x="42" y="149.82" text-anchor="end" class="tk">4</text>
<text x="42" y="123.59" text-anchor="end" class="tk">6</text>
<text x="42" y="97.36" text-anchor="end" class="tk">8</text>
<text x="42" y="71.13" text-anchor="end" class="tk">10</text>
<text x="42" y="44.90" text-anchor="end" class="tk">12</text>
<text x="42" y="18.67" text-anchor="end" class="tk">14</text>
<path d="M66.5,27.8 H105" stroke="#ff0000" stroke-width="1.6"/>
<path d="M67,48.8 H104" stroke="#000" stroke-width="1.4" stroke-dasharray="1.3 2.88"/>
<path d="M66.5,69.8 H105" stroke="#0000ff" stroke-width="1.7" stroke-dasharray="4.5 3.2"/>
<text x="110.6" y="31.8" class="lg">IAM</text>
<text x="110.6" y="52.8" class="lg">LO</text>
<text x="110.6" y="73.8" class="lg">NLO</text>
<path d="M174.3,235.7 L176.5,233.9" fill="none" stroke="#000" stroke-width="0.9"/>
<path d="M176.3,233.8 L180.7,242.6" fill="none" stroke="#000" stroke-width="1.9"/>
<path d="M180.7,243 L184.3,225.6 H194.5" fill="none" stroke="#000" stroke-width="0.9" stroke-linejoin="miter"/>
<text x="186.5" y="240.6" class="ax" font-style="italic">s</text>
<text x="201.0" y="240.6" class="ax" textLength="35.2" lengthAdjust="spacingAndGlyphs">[GeV]</text>
<g transform="translate(16.0,137) rotate(-90)"><text transform="translate(0.7,0) scale(1,1)" font-size="15.5" text-anchor="middle">|</text><text transform="translate(8.8,0) scale(1,1)" font-size="16.2" text-anchor="middle" font-style="italic">A</text><text transform="translate(19.4,2.6) scale(1,1)" font-size="10" text-anchor="middle">20</text><text transform="translate(27.25,0) scale(1,1)" font-size="15.5" text-anchor="middle">|</text><text transform="translate(32.9,0) scale(1,1)" font-size="15.5" text-anchor="middle">(</text><text transform="translate(41.5,0) scale(1.12,1)" font-size="14" text-anchor="middle" font-style="italic">π</text><text transform="translate(49.0,-5.9) scale(1,1)" font-size="11" text-anchor="middle">±</text><text transform="translate(59.1,0) scale(1.12,1)" font-size="14" text-anchor="middle" font-style="italic">π</text><text transform="translate(67.6,-7.6) scale(1,1)" font-size="11.5" text-anchor="middle">0</text><text transform="translate(73.6,0) scale(1,1)" font-size="15.5" text-anchor="middle">)</text></g>
</svg>
</body></html>
